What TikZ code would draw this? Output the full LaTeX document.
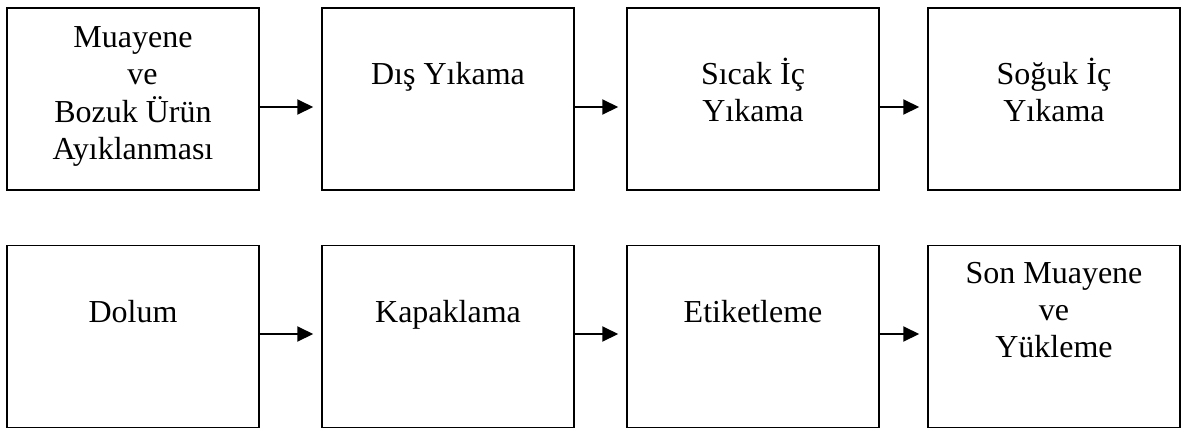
\documentclass[tikz,border=0pt]{standalone}
\usepackage{fontspec}
\setmainfont{Liberation Serif}
\usetikzlibrary{arrows.meta}
\begin{document}
\begin{tikzpicture}[x=1pt,y=-1pt,
  stepbox/.style={draw=black,line width=1.5pt,minimum width=252pt,minimum height=182pt,inner sep=0pt},
  steptext/.style={anchor=north,align=center,inner sep=0pt,font=\fontsize{32}{37}\selectfont},
  flow/.style={line width=2pt,-{Triangle[length=16pt,width=15pt]}}]
\useasboundingbox (0,0) rectangle (1193,429);
% top row
\node[stepbox] (b1) at (133,99) {};
\node[stepbox] (b2) at (448,99) {};
\node[stepbox] (b3) at (753,99) {};
\node[stepbox] (b4) at (1054,99) {};
% bottom row
\node[stepbox] (c1) at (133,336.5) {};
\node[stepbox] (c2) at (448,336.5) {};
\node[stepbox] (c3) at (753,336.5) {};
\node[stepbox] (c4) at (1054,336.5) {};
% texts (first baseline sits 25.9pt below the top of each text block)
\node[steptext] (t1) at ([yshift=-14.1pt]b1.north) {\strut Muayene\\\strut\hspace*{19pt}ve\\\strut Bozuk Ürün\\\strut Ayıklanması};
\node[steptext] (t2) at ([yshift=-51.1pt]b2.north) {\strut Dış Yıkama};
\node[steptext] (t3) at ([yshift=-51.1pt]b3.north) {\strut Sıcak İç\\\strut Yıkama};
\node[steptext] (t4) at ([yshift=-51.1pt]b4.north) {\strut Soğuk İç\\\strut Yıkama};
\node[steptext] (u1) at ([yshift=-52.1pt]c1.north) {\strut Dolum};
\node[steptext] (u2) at ([yshift=-52.1pt]c2.north) {\strut Kapaklama};
\node[steptext] (u3) at ([yshift=-52.1pt]c3.north) {\strut Etiketleme};
\node[steptext] (u4) at ([yshift=-13.1pt]c4.north) {\strut Son Muayene\\\strut ve\\\strut Yükleme};
% connectors
\draw[flow] ([yshift=-8pt]b1.east) -- ([yshift=-8pt,xshift=-8pt]b2.west);
\draw[flow] ([yshift=-8pt]b2.east) -- ([yshift=-8pt,xshift=-8pt]b3.west);
\draw[flow] ([yshift=-8pt]b3.east) -- ([yshift=-8pt,xshift=-8pt]b4.west);
\draw[flow] ([yshift=2.5pt]c1.east) -- ([yshift=2.5pt,xshift=-8pt]c2.west);
\draw[flow] ([yshift=2.5pt]c2.east) -- ([yshift=2.5pt,xshift=-8pt]c3.west);
\draw[flow] ([yshift=2.5pt]c3.east) -- ([yshift=2.5pt,xshift=-8pt]c4.west);
\end{tikzpicture}
\end{document}
